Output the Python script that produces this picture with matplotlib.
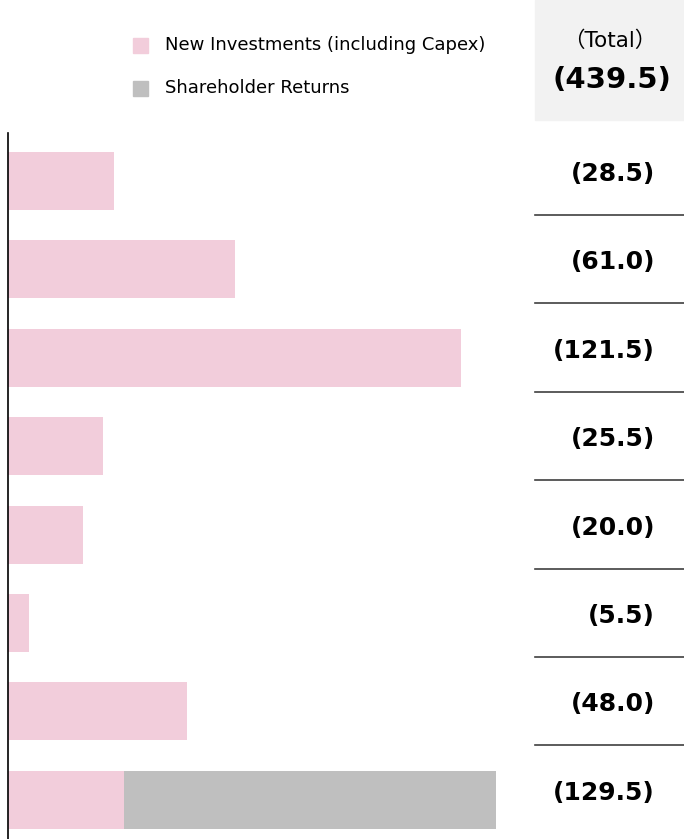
import matplotlib
matplotlib.use("Agg")
import matplotlib.pyplot as plt
from matplotlib.patches import Rectangle

plt.rcParams['font.family'] = ['DejaVu Sans', 'Noto Sans CJK JP']

# values
new_investments = [28.5, 61.0, 121.5, 25.5, 20.0, 5.5, 48.0, 31.0]
shareholder_returns = [0, 0, 0, 0, 0, 0, 0, 100.0]
row_labels = ["(28.5)", "(61.0)", "(121.5)", "(25.5)", "(20.0)", "(5.5)", "(48.0)", "(129.5)"]
total_label = "(439.5)"
legend_labels = ["New Investments (including Capex)", "Shareholder Returns"]

PINK = "#f2cddb"
GREY = "#bfbfbf"

W, H = 684, 839
fig = plt.figure(figsize=(W / 100, H / 100), dpi=100)

px_per_unit = 3.728
row_step = 88.4
row0 = 181
ax_top = 133
ax_left = 8

ax = fig.add_axes([ax_left / W, 0, (W - ax_left) / W, (H - ax_top) / H])
ax.set_xlim(0, (W - ax_left) / px_per_unit)
ax.set_ylim((H - row0) / row_step, (ax_top - row0) / row_step)

ys = list(range(len(new_investments)))
ax.barh(ys, new_investments, height=0.656, color=PINK, edgecolor="none")
ax.barh(ys, shareholder_returns, left=new_investments, height=0.656, color=GREY, edgecolor="none")

for spine in ["top", "right", "bottom"]:
    ax.spines[spine].set_visible(False)
ax.spines["left"].set_linewidth(1.2)
ax.spines["left"].set_color("black")
ax.set_xticks([])
ax.set_yticks([])

# value labels and separators on the right
lab_x = (655 - ax_left) / px_per_unit
sep_x0 = (535 - ax_left) / px_per_unit
sep_x1 = (W - ax_left) / px_per_unit
for i, lab in enumerate(row_labels):
    ax.text(lab_x, i - 0.08, lab, ha="right", va="center", fontsize=18, fontweight="bold")
    if i < len(row_labels) - 1:
        ax.plot([sep_x0, sep_x1], [i + 0.385, i + 0.385], color="#404040", lw=1.2, clip_on=False)

# legend
for (label, color, yc) in [(legend_labels[0], PINK, 45), (legend_labels[1], GREY, 88)]:
    fig.patches.append(Rectangle((133 / W, 1 - (yc + 7.5) / H), 15 / W, 15 / H,
                                 transform=fig.transFigure, color=color))
    fig.text(165 / W, 1 - yc / H, label, ha="left", va="center", fontsize=13)

# total box
fig.patches.append(Rectangle((535 / W, 1 - 120 / H), (W - 535) / W, 120 / H,
                             transform=fig.transFigure, color="#f2f2f2", zorder=0))
fig.text(610 / W, 1 - 41 / H, "（Total）", ha="center", va="center", fontsize=15.5)
fig.text(612 / W, 1 - 80 / H, total_label, ha="center", va="center", fontsize=21, fontweight="bold")

fig.savefig("out.png", dpi=100)
